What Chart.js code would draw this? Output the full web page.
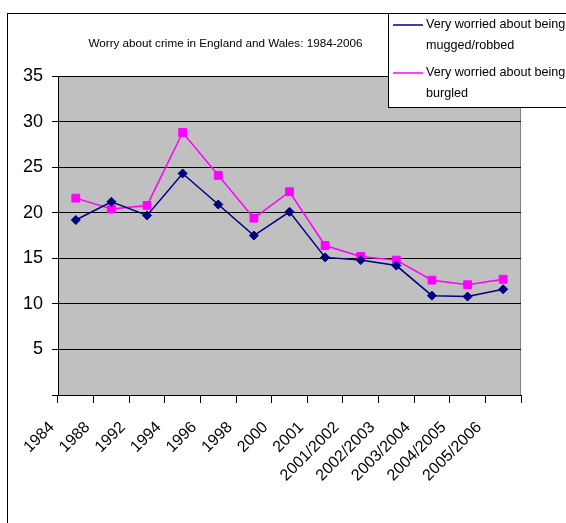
<!DOCTYPE html>
<html>
<head>
<meta charset="utf-8">
<script src="https://cdn.jsdelivr.net/npm/chart.js@4/dist/chart.umd.min.js"></script>
<style>
    html, body { margin: 0; padding: 0; background: #fff; }
    #wrap { width: 566px; height: 523px; }
</style>
</head>
<body>
<div id="wrap"><canvas id="graficaPreocupacion" width="566" height="523"></canvas></div>
<script>
const periodos = ['1984', '1988', '1992', '1994', '1996', '1998', '2000', '2001',
    '2001/2002', '2002/2003', '2003/2004', '2004/2005', '2005/2006'];
const robados = [19.2, 21.2, 19.7, 24.3, 20.9, 17.5, 20.1, 15.1, 14.8, 14.2, 10.9, 10.8, 11.6];
const robosCasa = [21.6, 20.4, 20.8, 28.8, 24.1, 19.4, 22.3, 16.4, 15.2, 14.8, 12.6, 12.1, 12.7];
const ticksY = ['', '5', '10', '15', '20', '25', '30', '35'];
const titulo = 'Worry about crime in England and Wales: 1984-2006';

const fuente = '"Liberation Sans", Arial, sans-serif';

const fondoGrafica = {
    id: 'fondoGrafica',
    beforeDraw(chart) {
        const { ctx, chartArea: a } = chart;
        ctx.save();
        ctx.strokeStyle = '#000';
        ctx.lineWidth = 1;
        ctx.strokeRect(7.5, 13.5, 700, 700);
        ctx.fillStyle = '#c0c0c0';
        ctx.fillRect(a.left, a.top, a.right - a.left, a.bottom - a.top);
        ctx.strokeStyle = '#808080';
        ctx.beginPath();
        ctx.moveTo(a.right - 0.5, a.top);
        ctx.lineTo(a.right - 0.5, a.bottom);
        ctx.stroke();
        ctx.fillStyle = '#000';
        ctx.font = '11.7px ' + fuente;
        ctx.textAlign = 'center';
        ctx.textBaseline = 'middle';
        ctx.fillText(titulo, 225.5, 44);
        ctx.restore();
    }
};

const leyenda = {
    id: 'leyenda',
    afterDraw(chart) {
        const { ctx } = chart;
        ctx.save();
        ctx.fillStyle = '#fff';
        ctx.fillRect(388, 13, 200, 94);
        ctx.strokeStyle = '#000';
        ctx.lineWidth = 1;
        ctx.strokeRect(388.5, 13.5, 200, 94);
        chart.data.datasets.forEach((ds, i) => {
            const y = 25 + i * 48;
            ctx.strokeStyle = ds.borderColor;
            ctx.lineWidth = 1.5;
            ctx.beginPath();
            ctx.moveTo(393, y);
            ctx.lineTo(423, y);
            ctx.stroke();
            Chart.helpers.drawPoint(ctx, {
                pointStyle: ds.pointStyle,
                rotation: 0,
                borderWidth: 1
            }, 408, y);
            ctx.fillStyle = ds.backgroundColor;
            ctx.fill();
            ctx.fillStyle = '#000';
            ctx.font = '12.6px ' + fuente;
            ctx.textAlign = 'left';
            ctx.textBaseline = 'middle';
            const partes = ds.label.split('being ');
            ctx.fillText(partes[0] + 'being', 426, y);
            ctx.fillText(partes[1], 426, y + 21);
        });
        ctx.restore();
    }
};

const canvas = document.getElementById('graficaPreocupacion');

new Chart(canvas, {
    type: 'line',
    data: {
        labels: periodos,
        datasets: [{
            label: 'Very worried about being mugged/robbed',
            data: robados,
            borderColor: '#000080',
            backgroundColor: '#000080',
            pointStyle: 'rectRot',
            pointRadius: 4.5,
            pointBorderWidth: 1,
            borderWidth: 1.5,
            tension: 0
        }, {
            label: 'Very worried about being burgled',
            data: robosCasa,
            borderColor: '#ff00ff',
            backgroundColor: '#ff00ff',
            pointStyle: 'rect',
            pointRadius: 5.5,
            pointBorderWidth: 1,
            borderWidth: 1.5,
            tension: 0
        }]
    },
    options: {
        responsive: false,
        animation: false,
        devicePixelRatio: 1,
        layout: {
            padding: { left: 8, top: 76, right: 45, bottom: 0 }
        },
        plugins: {
            legend: { display: false },
            title: { display: false },
            tooltip: { enabled: false }
        },
        scales: {
            x: {
                offset: true,
                afterFit: (escala) => { escala.height = 128; },
                grid: {
                    offset: true,
                    drawOnChartArea: false,
                    drawTicks: true,
                    tickLength: 8,
                    color: '#000'
                },
                border: { display: true, color: '#000', width: 1 },
                ticks: {
                    color: '#000',
                    font: { family: fuente, size: 16 },
                    minRotation: 45,
                    maxRotation: 45,
                    padding: 15,
                    labelOffset: -24,
                    autoSkip: false
                }
            },
            y: {
                min: 0,
                max: 35,
                afterFit: (escala) => { escala.width = 50; },
                grid: {
                    color: '#000',
                    lineWidth: 1,
                    drawTicks: true,
                    tickLength: 6
                },
                border: { display: true, color: '#000', width: 1 },
                ticks: {
                    stepSize: 5,
                    color: '#000',
                    padding: 9,
                    font: { family: fuente, size: 18 },
                    callback: (valor) => ticksY[valor / 5]
                }
            }
        }
    },
    plugins: [fondoGrafica, leyenda]
});
</script>
</body>
</html>
